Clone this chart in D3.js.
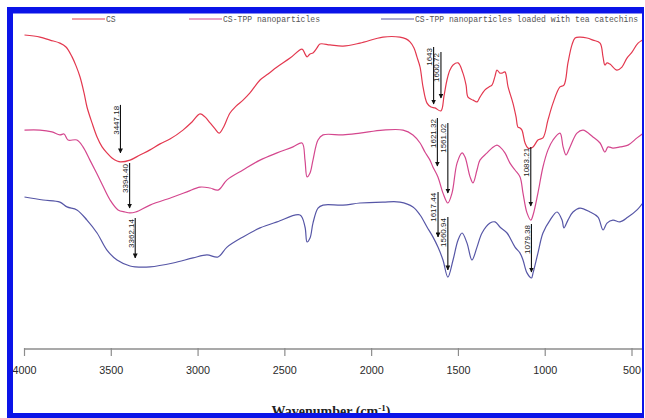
<!DOCTYPE html>
<html>
<head>
<meta charset="utf-8">
<script src="https://cdn.jsdelivr.net/npm/d3@7"></script>
<style>
  html, body { margin: 0; padding: 0; background: #fff; }
  svg { display: block; }
</style>
</head>
<body>
<svg id="chart" width="645" height="418"></svg>
<script>
// FTIR spectra: wavenumber (cm-1) vs transmittance (a.u., curves offset for clarity)
const seriesNames = ["CS", "CS-TPP nanoparticles", "CS-TPP nanoparticles loaded with tea catechins"];
const seriesColors = ["#e3384f", "#d4478e", "#5656a6"];

const xTicks = [4000, 3500, 3000, 2500, 2000, 1500, 1000, 500];

const csSpectrum = [
  [4000,105],[3911,104.3],[3853,103.3],[3796,102.3],[3761,101],[3726,97.7],[3703,94.7],[3680,91],
  [3657,85.7],[3640,81],[3611,75.7],[3582,71],[3553,67.7],[3525,65.7],[3496,64],[3467,63],[3447,62.7],
  [3392,63.3],[3335,65],[3277,66.7],[3219,68.7],[3162,70.3],[3087,73.3],[3035,76],[2989,78.7],
  [2960,77.7],[2931,75.7],[2902,73.7],[2879,72.3],[2856,74],[2816,79],[2781,81.3],[2741,83.3],
  [2701,85.7],[2643,90],[2597,92],[2545,94.3],[2470,97.3],[2401,100.3],[2384,98.7],[2372,97.7],
  [2355,98.7],[2338,99],[2315,100.7],[2298,102],[2240,101.7],[2165,101.3],[2067,102.3],[1935,104.3],
  [1837,104.3],[1802,103.7],[1779,102.7],[1756,100.7],[1739,97.7],[1721,94.3],[1704,87.7],[1681,82.3],
  [1658,81],[1635,80.7],[1601,79.7],[1583,84.7],[1566,90],[1549,93.3],[1531,95],[1502,95.7],
  [1474,92.3],[1456,88.3],[1445,84.3],[1416,83.3],[1393,82.7],[1376,84.3],[1347,86.7],[1324,87.7],
  [1307,88.3],[1289,91.3],[1278,93.3],[1261,92.3],[1249,92.3],[1232,92.7],[1214,87.7],[1186,82.3],
  [1168,77.7],[1157,74.3],[1145,74],[1134,73.3],[1116,69],[1099,67.3],[1070,67.7],[1042,70],
  [1013,70.7],[984,76.7],[955,82.3],[915,87.7],[892,88.3],[869,95.7],[846,101.7],[828,104],
  [800,104.3],[759,104],[725,103.3],[684,102.3],[667,97.7],[656,95],[644,95.7],[627,95.3],
  [587,93.3],[558,94.3],[529,97.3],[500,99.3],[465,102.3],[425,103.7]
];

const csTppSpectrum = [
  [4000,73.3],[3911,73.3],[3842,72.7],[3796,71.7],[3772,72],[3749,70],[3698,70],[3663,67.7],
  [3623,63.3],[3565,56.7],[3507,50],[3461,46.7],[3421,46],[3394,45.7],[3360,46],[3277,48.3],
  [3144,51],[3064,52.7],[2989,54.3],[2931,54],[2885,53.3],[2833,56.7],[2741,60],[2643,63.3],
  [2545,65.7],[2453,67.7],[2401,69],[2384,63.3],[2372,57.7],[2355,59],[2338,63.3],[2309,70],
  [2280,71.7],[2165,71.7],[2067,72.3],[1935,73.3],[1819,73.3],[1762,71.7],[1721,69],[1693,66],
  [1664,63.3],[1647,61],[1618,57.7],[1589,52.3],[1561,49],[1537,52.3],[1508,62.3],[1479,65.7],
  [1462,64.3],[1433,57.7],[1416,55.7],[1393,60],[1376,63.3],[1335,65.7],[1307,67.3],[1278,68.3],
  [1261,67.7],[1232,65.7],[1203,62.3],[1174,60],[1145,57.7],[1128,52.3],[1105,45.7],[1083,43.3],
  [1070,45],[1042,52.3],[1013,61],[984,66.7],[955,70],[915,72.3],[897,67.7],[880,65],[857,67.7],
  [817,72.3],[782,73.3],[725,71],[684,69],[656,66],[638,67.7],[610,67.3],[569,67.7],[523,68.3],
  [471,70.7],[425,72.7]
];

const csTppTeaSpectrum = [
  [4000,51],[3893,50],[3796,49.3],[3755,47.7],[3698,46.7],[3640,43.3],[3582,39],[3525,33.3],
  [3467,30],[3392,28],[3362,27.7],[3277,27.7],[3144,29],[3029,30.7],[2949,31.7],[2885,31],
  [2833,34.3],[2741,37.7],[2643,40.7],[2545,42.7],[2413,45],[2384,41],[2372,36],[2355,37.3],
  [2338,42.3],[2309,47.3],[2280,48.3],[2165,48.3],[2067,49],[1935,49.3],[1837,49.3],[1762,47.7],
  [1721,45],[1681,41],[1647,37.7],[1618,34.3],[1589,30],[1561,24.3],[1531,30],[1502,36.7],
  [1479,39],[1451,35.7],[1422,30],[1393,34.3],[1364,39],[1318,42.3],[1289,42.7],[1261,41],
  [1220,39],[1174,34.3],[1145,32.3],[1128,30],[1105,25.7],[1079,24],[1070,25.7],[1042,32.3],
  [1013,39],[972,43.3],[932,46],[903,43.3],[892,40.7],[869,43.3],[840,46],[800,47.3],[742,46],
  [696,44.3],[667,40],[644,42.3],[610,43.3],[569,42.7],[523,44.3],[471,46.7],[425,50]
];

// Peak annotations: label text (its wavenumber), arrow top and arrow tip (transmittance units)
const peakLabels   = ["3447.18","3394.40","3362.14","1643","1600.72","1621.32","1561.02","1083.21","1617.44","1560.94","1079.38"];
const peakArrowTop = [81.7, 62.3, 44, 101, 99.3, 77.3, 75.7, 67.7, 52.7, 44.3, 42];
const peakArrowTip = [65.7, 47.3, 30.7, 82, 84, 61.3, 52.3, 48, 37.7, 26.7, 26];

const spectra = [csSpectrum, csTppSpectrum, csTppTeaSpectrum];

const svg = d3.select("#chart");
const W = 645, H = 418;

const x = d3.scaleLinear().domain([4000, 500]).range([24.5, 632]);
const y = d3.scaleLinear().domain([0, 110]).range([350, 20]);

const plot = svg.append("g");

// spectra
const line = d3.line()
  .x(d => x(d[0]))
  .y(d => y(d[1]))
  .curve(d3.curveCatmullRom.alpha(0.5));

plot.selectAll("path.spectrum")
  .data(spectra)
  .join("path")
  .attr("class", "spectrum")
  .attr("d", line)
  .attr("fill", "none")
  .attr("stroke", (d, i) => seriesColors[i])
  .attr("stroke-width", 1.2)
  .attr("stroke-linejoin", "round");

// arrowhead marker
svg.append("defs").append("marker")
  .attr("id", "arrowhead")
  .attr("viewBox", "0 0 10 10")
  .attr("refX", 9).attr("refY", 5)
  .attr("markerWidth", 5).attr("markerHeight", 5)
  .attr("markerUnits", "userSpaceOnUse")
  .attr("orient", "auto")
  .append("path")
  .attr("d", "M0,0 L10,5 L0,10 Z")
  .attr("fill", "#111");

const peaks = peakLabels.map((lab, i) => ({
  label: lab, wn: parseFloat(lab), top: peakArrowTop[i], tip: peakArrowTip[i]
}));

const ann = plot.selectAll("g.peak").data(peaks).join("g").attr("class", "peak");
ann.append("line")
  .attr("x1", d => x(d.wn)).attr("x2", d => x(d.wn))
  .attr("y1", d => y(d.top)).attr("y2", d => y(d.tip))
  .attr("stroke", "#111").attr("stroke-width", 1.1)
  .attr("marker-end", "url(#arrowhead)");
ann.append("text")
  .attr("transform", d => `translate(${x(d.wn) - 1.6},${y(d.top) + 1}) rotate(-90)`)
  .attr("text-anchor", "end")
  .attr("font-family", "Liberation Sans, Arial, sans-serif")
  .attr("font-size", 8)
  .attr("fill", "#222")
  .text(d => d.label);

// x axis
const axisG = svg.append("g").attr("transform", "translate(0,349)");
axisG.append("line")
  .attr("x1", x(4000)).attr("x2", W)
  .attr("stroke", "#8c8c8c").attr("stroke-width", 1.5);
axisG.selectAll("line.tick").data(xTicks).join("line")
  .attr("class", "tick")
  .attr("x1", d => x(d)).attr("x2", d => x(d))
  .attr("y1", -1).attr("y2", 7)
  .attr("stroke", "#8c8c8c").attr("stroke-width", 1.2);
axisG.selectAll("text.tick").data(xTicks).join("text")
  .attr("class", "tick")
  .attr("x", d => x(d)).attr("y", 25)
  .attr("text-anchor", "middle")
  .attr("font-family", "Liberation Sans, Arial, sans-serif")
  .attr("font-size", 11.5)
  .attr("fill", "#2a2a2a")
  .attr("textLength", d => String(d).length * 6)
  .attr("lengthAdjust", "spacingAndGlyphs")
  .text(d => d);

const title = svg.append("text")
  .attr("x", 331).attr("y", 416)
  .attr("text-anchor", "middle")
  .attr("font-family", "Liberation Serif, Times New Roman, serif")
  .attr("font-weight", "bold")
  .attr("font-size", 14)
  .attr("fill", "#222");
title.append("tspan").text("Wavenumber (cm");
title.append("tspan").attr("dy", -5).attr("font-size", 9).text("-1");
title.append("tspan").attr("dy", 5).text(")");

// legend
const legendX = [72, 189, 381];
const legend = svg.append("g").selectAll("g").data(seriesNames).join("g")
  .attr("transform", (d, i) => `translate(${legendX[i]},19)`);
legend.append("line")
  .attr("x1", 0).attr("x2", 33)
  .attr("stroke", (d, i) => seriesColors[i]).attr("stroke-width", 1.2);
legend.append("text")
  .attr("x", 34).attr("y", 3)
  .attr("font-family", "Liberation Mono, Courier New, monospace")
  .attr("font-size", 8.2)
  .attr("fill", "#555")
  .attr("textLength", d => d.length * 4.85)
  .attr("lengthAdjust", "spacingAndGlyphs")
  .text(d => d);

// blue frame
const frame = svg.append("g").attr("fill", "#0b14e8");
frame.append("rect").attr("x", 7).attr("y", 7).attr("width", W - 7).attr("height", 6.5);
frame.append("rect").attr("x", 7).attr("y", 7).attr("width", 6).attr("height", H - 7);
frame.append("rect").attr("x", 7).attr("y", 413).attr("width", W - 7).attr("height", 5);
frame.append("rect").attr("x", 642).attr("y", 7).attr("width", 2).attr("height", H - 7);
svg.append("rect").attr("x", 644).attr("y", 0).attr("width", 1).attr("height", H).attr("fill", "#fff");
</script>
</body>
</html>
